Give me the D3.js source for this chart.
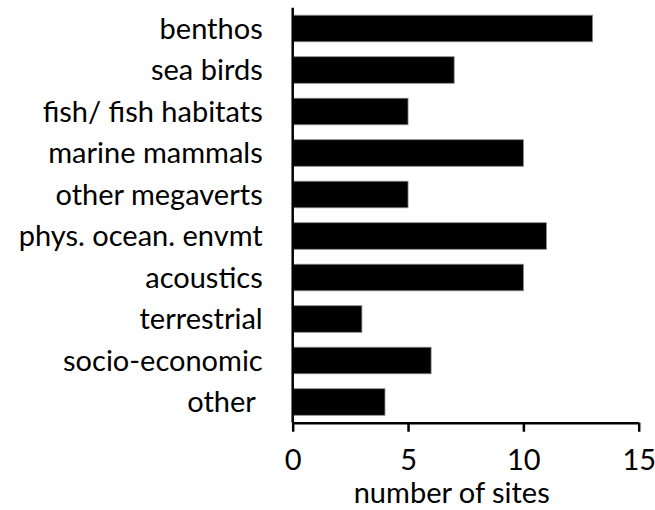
<!DOCTYPE html>
<html><head><meta charset="utf-8">
<script src="https://cdn.jsdelivr.net/npm/d3@7"></script>
<style>body{margin:0;background:#fff}svg{display:block}text{font-family:Lato,"Open Sans",sans-serif;fill:#000}</style>
</head><body><svg id="c" width="655" height="510"></svg>
<script>
const categories = ["benthos","sea birds","fish/ fish habitats","marine mammals","other megaverts","phys. ocean. envmt","acoustics","terrestrial","socio-economic","other "];
const values = [13,7,5,10,5,11,10,3,6,4];
const xTicks = [0,5,10,15];
const xTitle = "number of sites";
const FS = "29px";

const svg = d3.select("#c");
const x = d3.scaleLinear().domain([0,15]).range([292.7,638.7]);
const y = d3.scaleBand().domain(categories).range([7.75,422.75]).paddingInner(0.36).paddingOuter(0.18);

svg.selectAll("rect.bar").data(categories).join("rect")
  .attr("class","bar")
  .attr("x", x(0))
  .attr("y", d=>y(d))
  .attr("width", (d,i)=>x(values[i])-x(0))
  .attr("height", y.bandwidth())
  .attr("fill","#000").attr("stroke","#888").attr("stroke-width",0.8);

// y axis
const yAxis = svg.append("g").attr("transform",`translate(${x(0)},0)`)
  .call(d3.axisLeft(y).tickSize(0).tickPadding(30));
yAxis.select(".domain").attr("d",`M0,7.75V422.75`).attr("stroke","#000").attr("stroke-width",2.5);
yAxis.selectAll("text").style("font-size",FS).attr("dy","0.36em").attr("font-family","Lato").style("white-space","pre");

// x axis
const xAxis = svg.append("g").attr("transform",`translate(0,422.75)`)
  .call(d3.axisBottom(x).tickValues(xTicks).tickSize(9).tickSizeOuter(0).tickPadding(18));
xAxis.select(".domain").attr("stroke","#000").attr("stroke-width",2.5);
xAxis.selectAll(".tick line").attr("stroke","#000").attr("stroke-width",2.5);
xAxis.selectAll("text").style("font-size",FS).attr("font-family","Lato");

svg.append("text").attr("x",(x(0)+x(15))/2 - 14).attr("y",503)
  .attr("text-anchor","middle").style("font-size",FS).text(xTitle);
</script></body></html>
